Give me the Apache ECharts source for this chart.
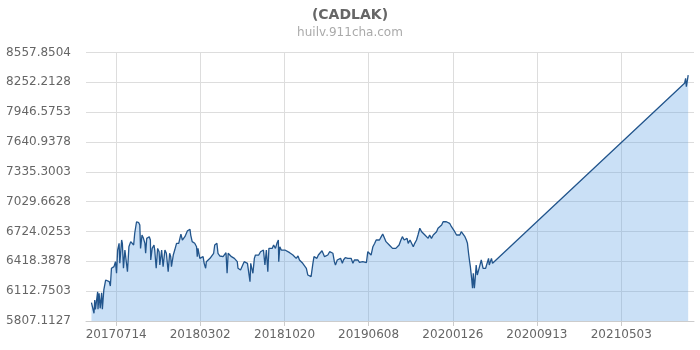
<!DOCTYPE html>
<html>
<head>
<meta charset="utf-8">
<script src="https://cdn.jsdelivr.net/npm/echarts@6/dist/echarts.min.js"></script>
<style>html,body{margin:0;padding:0;background:#fff;}#chart{width:700px;height:350px;}</style>
</head>
<body>
<div id="chart"></div>
<script>
// Axis range (daily categories)
const axisStartDate = '20170422';
const axisEndDate = '20211119';
const xTickLabels = ['20170714','20180302','20181020','20190608','20200126','20200913','20210503'];
const yTickLabels = ['5807.1127','6112.7503','6418.3878','6724.0253','7029.6628','7335.3003','7640.9378','7946.5753','8252.2128','8557.8504'];
const yMin = 5807.1127, yMax = 8557.8504;

// Observations: day offset since firstObsDate, and rate value
const firstObsDate = '20170507';
const obsDay = [0,5,7,9,11,17,18,21,24,28,30,34,39,44,49,52,55,62,66,69,72,76,78,83,85,88,92,96,99,103,108,113,116,119,124,130,133,135,139,143,147,149,152,159,162,163,167,172,174,178,182,186,188,193,197,202,206,211,215,218,220,225,229,234,240,246,250,257,264,267,271,273,277,282,284,289,291,293,298,303,307,310,314,316,321,326,330,336,339,345,348,353,358,362,367,370,373,376,381,385,388,393,396,401,403,405,410,413,416,420,425,429,433,436,438,442,444,448,451,455,460,465,469,473,477,481,485,488,492,497,501,506,510,514,515,518,522,527,532,536,545,554,558,563,568,572,577,581,586,591,595,600,604,609,612,616,620,624,629,634,638,641,646,650,655,659,664,668,671,676,680,685,690,693,698,705,710,714,719,723,728,733,737,742,746,751,756,760,765,769,774,779,783,788,792,797,801,806,810,814,819,824,828,833,837,842,846,851,855,860,865,868,871,876,880,885,889,894,898,903,908,912,917,921,926,930,935,940,944,949,953,958,963,967,972,976,981,985,990,995,999,1004,1008,1013,1017,1022,1027,1031,1034,1037,1040,1042,1045,1048,1050,1053,1055,1058,1061,1064,1066,1069,1072,1074,1077,1080,1084,1089,1092,1094,1097,1100,1103,1108,1631,1634,1636,1641];
const obsValue = [5995,5978,5886,6022,5927,6107,5927,6091,5937,6097,5927,6125,6227,6245,6210,6166,6347,6364,6415,6296,6534,6603,6398,6637,6603,6347,6534,6517,6312,6568,6620,6637,6586,6706,6824,6814,6791,6551,6688,6654,6603,6501,6654,6671,6637,6432,6551,6586,6534,6347,6551,6517,6381,6534,6364,6534,6501,6312,6501,6466,6364,6483,6534,6603,6603,6698,6637,6671,6732,6740,6746,6688,6620,6620,6603,6568,6466,6551,6449,6432,6466,6398,6347,6415,6432,6449,6439,6501,6586,6603,6501,6473,6466,6466,6483,6507,6296,6501,6483,6466,6483,6449,6466,6415,6347,6364,6330,6312,6381,6415,6432,6398,6381,6210,6398,6415,6296,6449,6483,6501,6483,6517,6501,6534,6381,6534,6312,6551,6568,6551,6586,6551,6603,6637,6415,6568,6534,6517,6534,6517,6507,6483,6501,6449,6473,6432,6415,6398,6381,6347,6278,6278,6261,6398,6466,6466,6449,6483,6466,6527,6534,6466,6466,6483,6517,6534,6501,6415,6381,6432,6415,6449,6398,6432,6456,6449,6432,6449,6398,6432,6415,6432,6408,6425,6415,6432,6404,6517,6534,6483,6568,6603,6637,6654,6637,6671,6698,6654,6620,6603,6586,6568,6551,6534,6551,6568,6586,6637,6671,6637,6620,6654,6603,6637,6620,6568,6603,6637,6688,6757,6722,6706,6688,6671,6654,6688,6654,6688,6706,6722,6757,6773,6791,6824,6842,6824,6808,6808,6773,6757,6722,6688,6671,6688,6722,6706,6671,6637,6603,6501,6415,6364,6261,6142,6296,6142,6227,6381,6278,6296,6347,6364,6432,6449,6347,6337,6347,6347,6449,6381,6364,6449,6398,6381,8242,8293,8207,8327];

function parseD(s){return Date.UTC(+s.slice(0,4), +s.slice(4,6)-1, +s.slice(6,8));}
function fmtD(t){const d=new Date(t);const m=d.getUTCMonth()+1, dd=d.getUTCDate();return d.getUTCFullYear()+(m<10?'0':'')+m+(dd<10?'0':'')+dd;}
const categories = [];
for (let t = parseD(axisStartDate); t <= parseD(axisEndDate); t += 86400000) categories.push(fmtD(t));
const firstIdx = categories.indexOf(firstObsDate);
const seriesData = obsDay.map((d, i) => [categories[firstIdx + d], obsValue[i]]);
const isTick = (i, v) => xTickLabels.indexOf(v) >= 0;

const chart = echarts.init(document.getElementById('chart'), null, {renderer: 'canvas'});
chart.setOption({
  animation: false,
  textStyle: {fontFamily: 'DejaVu Sans'},
  title: {
    text: '(CADLAK)', subtext: 'huilv.911cha.com', left: 'center', top: 3, itemGap: 5,
    textStyle: {fontSize: 14, fontWeight: 'bold', color: '#666', fontFamily: 'DejaVu Sans'},
    subtextStyle: {fontSize: 12, color: '#aaa', fontFamily: 'DejaVu Sans'}
  },
  grid: {left: 86, right: 6, top: 52.5, bottom: 29},
  xAxis: {
    type: 'category', data: categories, boundaryGap: false,
    axisLine: {lineStyle: {color: '#ccc'}},
    axisTick: {interval: isTick, length: 5, lineStyle: {color: '#ccc'}},
    axisLabel: {interval: isTick, color: '#666', fontSize: 12, margin: 8},
    splitLine: {show: true, interval: isTick, lineStyle: {color: '#ddd'}}
  },
  yAxis: {
    type: 'value', min: yMin, max: yMax, interval: (yMax - yMin) / 9,
    axisLine: {show: false}, axisTick: {show: false},
    axisLabel: {color: '#666', fontSize: 12, margin: 15,
      formatter: v => yTickLabels[Math.round((v - yMin) / ((yMax - yMin) / 9))] || ''},
    splitLine: {lineStyle: {color: '#ddd'}}
  },
  series: [{
    type: 'line', data: seriesData, symbol: 'none', showSymbol: false,
    lineStyle: {color: '#22558c', width: 1.3},
    itemStyle: {color: '#22558c'},
    areaStyle: {color: 'rgba(100,165,230,0.34)', opacity: 1}
  }]
});
</script>
</body>
</html>
